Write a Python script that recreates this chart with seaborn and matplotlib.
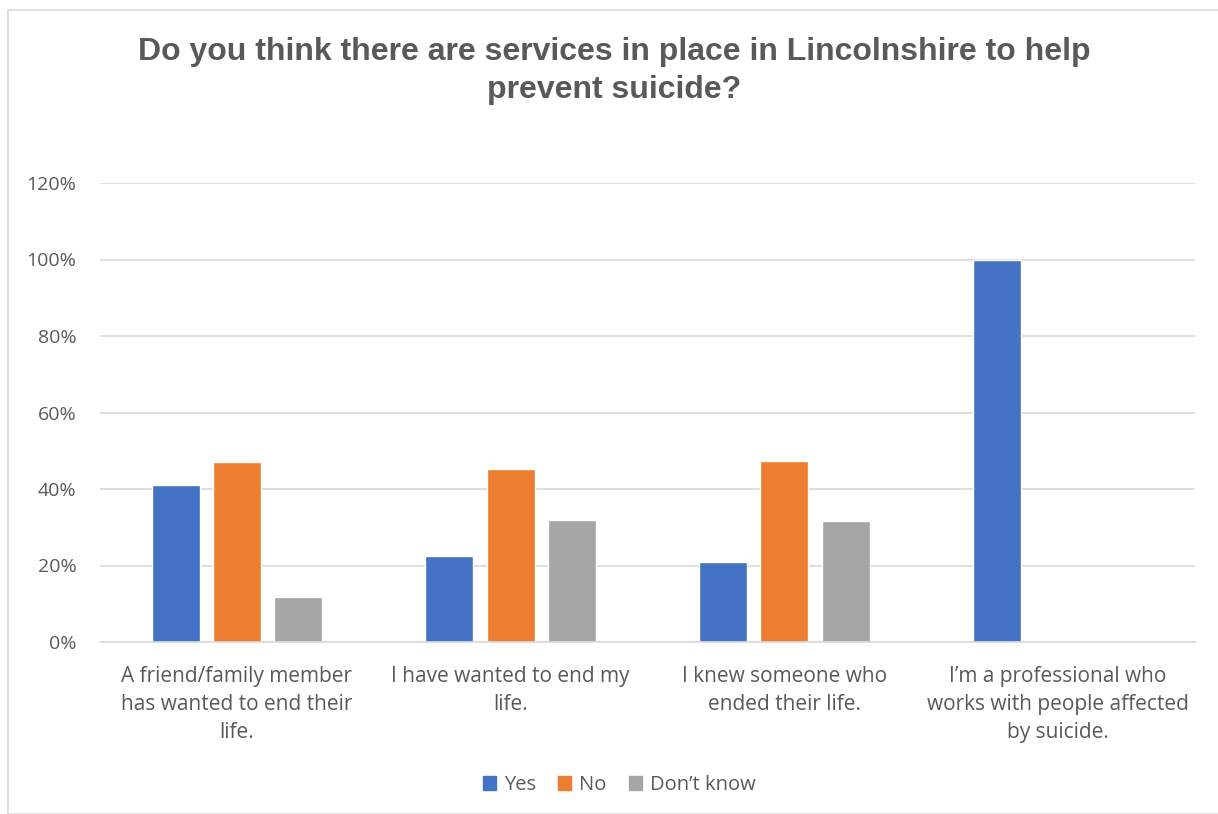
import matplotlib
matplotlib.use("Agg")
import matplotlib.pyplot as plt
import seaborn as sns
import pandas as pd
from matplotlib.patches import Rectangle
from matplotlib.ticker import PercentFormatter

categories = [
    "A friend/family member\nhas wanted to end their\nlife.",
    "I have wanted to end my\nlife.",
    "I knew someone who\nended their life.",
    "I\u2019m a professional who\nworks with people affected\nby suicide.",
]
series = ["Yes", "No", "Don\u2019t know"]
yes_vals = [41.1, 22.6, 20.9, 100.0]
no_vals = [47.0, 45.2, 47.3, 0.0]
dk_vals = [11.7, 31.8, 31.6, 0.0]
colors = ["#4472C4", "#ED7D31", "#A5A5A5"]

rows = []
for vals, s in zip([yes_vals, no_vals, dk_vals], series):
    for c, v in zip(categories, vals):
        rows.append({"cat": c, "series": s, "val": v})
df = pd.DataFrame(rows)

sns.set_theme(style="white")
plt.rcParams["font.family"] = ["Open Sans", "DejaVu Sans"]
text_color = "#595959"

fig = plt.figure(figsize=(12.18, 8.14), dpi=100)
ax = fig.add_axes([100/1218, 1-642/814, 1095/1218, 459/814])

sns.barplot(data=df, x="cat", y="val", hue="series", order=categories,
            hue_order=series, palette=colors, width=0.67, gap=0.215,
            saturation=1, ax=ax, legend=True)

ax.set_ylim(0, 120)
ax.set_yticks(range(0, 121, 20))
ax.yaxis.set_major_formatter(PercentFormatter(decimals=0))
ax.grid(axis="y", color="#D9D9D9", linewidth=1.2)
ax.set_axisbelow(True)
for s in ["top", "right", "left"]:
    ax.spines[s].set_visible(False)
ax.spines["bottom"].set_color("#D9D9D9")
ax.spines["bottom"].set_linewidth(1.2)
ax.set_xlabel("")
ax.set_ylabel("")
ax.tick_params(axis="both", length=0, colors=text_color)
ax.tick_params(axis="y", pad=17, labelsize=14)
ax.tick_params(axis="x", pad=17, labelsize=15)
for lbl in ax.get_xticklabels():
    lbl.set_linespacing(1.45)

ax.legend_.remove()
handles = [Rectangle((0, 0), 1, 1, color=c) for c in colors]
fig.legend(handles, series, loc="center", bbox_to_anchor=(619/1218, 1-785/814),
           ncol=3, frameon=False, fontsize=14.5, labelcolor=text_color,
           handlelength=0.65, handleheight=0.65, handletextpad=0.4, columnspacing=1.1)

title_font = ["Liberation Sans", "DejaVu Sans"]
fig.text(614/1218, 1-52/814, "Do you think there are services in place in Lincolnshire to help",
         ha="center", va="center", fontsize=23, fontweight="bold", color=text_color,
         family=title_font)
fig.text(614/1218, 1-90/814, "prevent suicide?",
         ha="center", va="center", fontsize=23, fontweight="bold", color=text_color,
         family=title_font)

fig.patches.append(Rectangle((8/1218, 0), 1.0, 1-10/814, transform=fig.transFigure,
                             fill=False, edgecolor="#D9D9D9", linewidth=1.2))

fig.savefig("out.png", dpi=100, facecolor="white")
